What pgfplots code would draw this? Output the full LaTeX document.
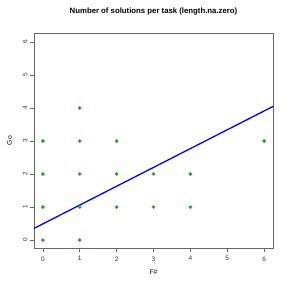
\documentclass[border=0pt]{standalone}
\usepackage{pgfplots}
\pgfplotsset{compat=1.18}
\usepackage{fontspec}
\setmainfont{Liberation Sans}
\definecolor{ptgreen}{RGB}{50,160,44}
\begin{document}
\begin{tikzpicture}
\useasboundingbox (0,0) rectangle (291bp,291bp);
\begin{axis}[
  at={(34bp,43bp)}, anchor=south west,
  scale only axis, width=239bp, height=215bp,
  xmin=-0.24, xmax=6.24, ymin=-0.24, ymax=6.27,
  xtick={0,1,2,3,4,5,6}, ytick={0,1,2,3,4,5,6},
  tick align=outside, tick pos=left,
  major tick length=4bp,
  axis line style={black!60, line width=0.8pt},
  every tick/.style={black!60, line width=0.6pt},
  tick label style={font=\fontsize{6.5}{7.5}\selectfont, text=black!80},
  /pgf/number format/assume math mode=true,
  yticklabel style={rotate=90, anchor=south, yshift=-1bp},
  xticklabel style={yshift=-1bp},
  title={\bfseries Number of solutions per task (length.na.zero)},
  title style={font=\fontsize{7.8}{9}\selectfont, at={(0.5,1)}, yshift=8bp},
  xlabel={F\#}, ylabel={Go},
  label style={font=\fontsize{6.8}{8}\selectfont},
  xlabel style={yshift=-2bp},
  ylabel style={yshift=4bp},
  clip=true,
]
\addplot[only marks, mark=*, mark size=1.7bp, color=ptgreen, mark options={solid, draw=ptgreen, fill=ptgreen, line width=0.3pt}] coordinates {
(0,0) (0,1) (0,2) (0,3)
(1,0) (1,1) (1,2) (1,3) (1,4)
(2,1) (2,2) (2,3)
(3,1) (3,2)
(4,1) (4,2)
(6,3)
};
\addplot[blue, line width=1.3pt] coordinates {(-0.3,0.319) (6.3,4.081)};
\end{axis}
\end{tikzpicture}
\end{document}
